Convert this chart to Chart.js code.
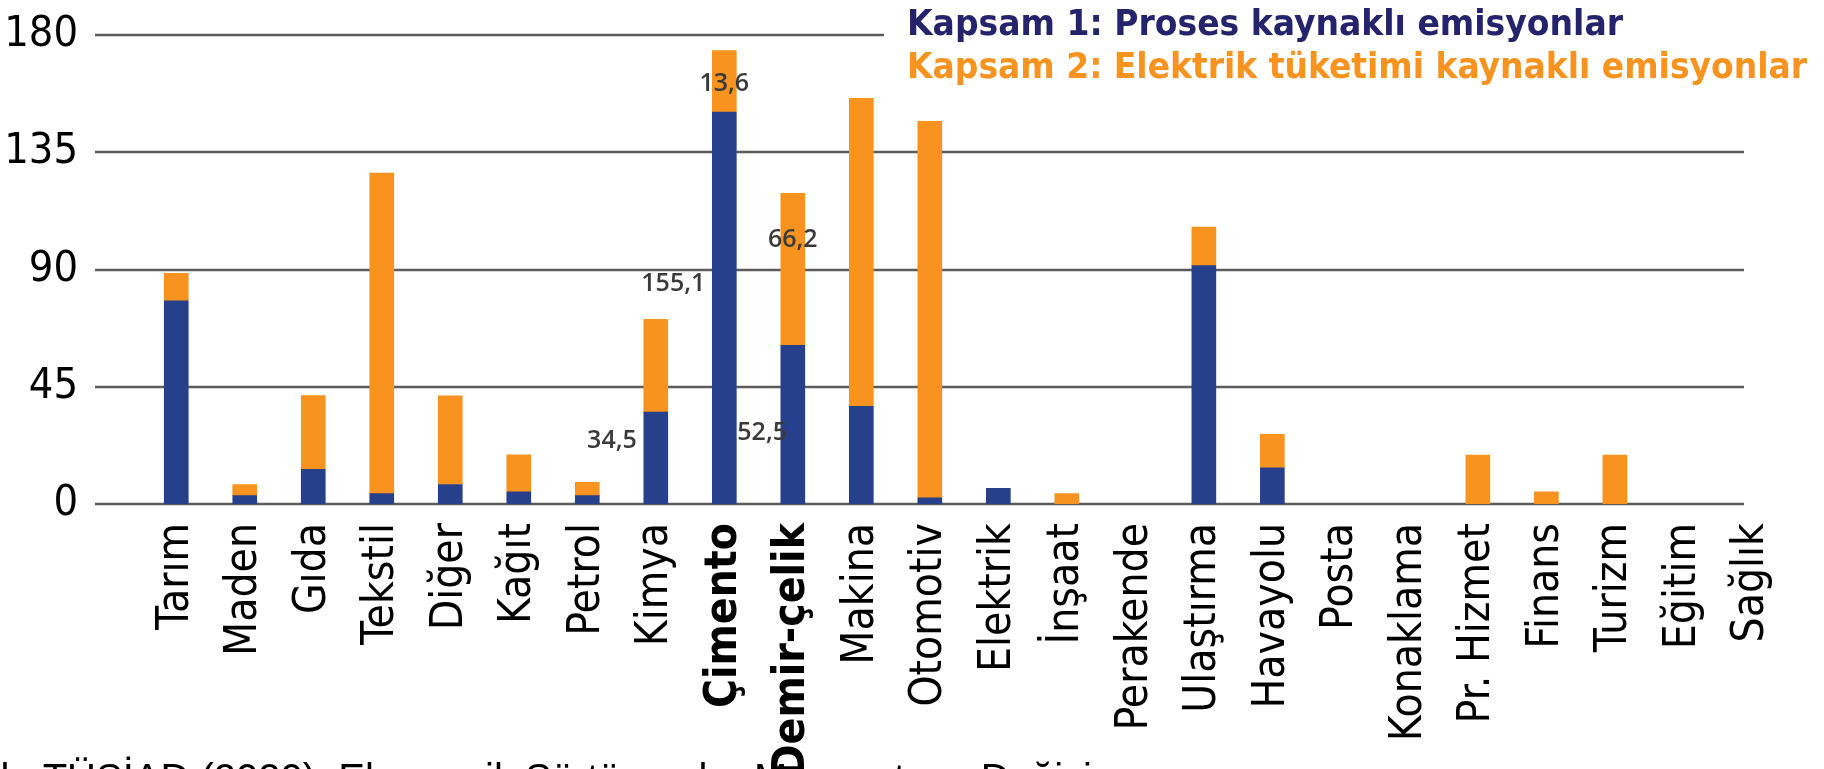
<!DOCTYPE html>
<html lang="tr">
<head>
<meta charset="utf-8">
<title>Kapsam 1 ve Kapsam 2 emisyonları</title>
<script src="https://cdn.jsdelivr.net/npm/chart.js@4.4.1/dist/chart.umd.min.js"></script>
<style>
  html, body { margin: 0; padding: 0; background: #fff; overflow: hidden; }
  #wrap { position: relative; width: 1824px; height: 769px; }
</style>
</head>
<body>
<div id="wrap"><canvas id="emisyon"></canvas></div>
<script>
// sectors along the x axis
const categories = [
    "Tarım", "Maden", "Gıda", "Tekstil", "Diğer", "Kağıt", "Petrol", "Kimya",
    "Çimento", "Demir-çelik", "Makina", "Otomotiv", "Elektrik", "İnşaat",
    "Perakende", "Ulaştırma", "Havayolu", "Posta", "Konaklama", "Pr. Hizmet",
    "Finans", "Turizm", "Eğitim", "Sağlık"
];
const boldCategories = ["Çimento", "Demir-çelik"];

// Kapsam 1 (blue, bottom) and Kapsam 2 (orange, stacked on top)
const kapsam1 = [78, 3.2, 13.3, 4, 7.5, 4.7, 3.2, 35.3, 150.4, 60.9, 37.5, 2.4, 6, 0, 0, 91.5, 13.9, 0, 0, 0, 0, 0, 0, 0];
const kapsam2 = [10.5, 4.3, 28.3, 123, 34, 14.2, 5.1, 35.6, 23.6, 58.3, 118.2, 144.5, 0, 4, 0, 14.8, 12.8, 0, 0, 18.8, 4.7, 18.8, 0, 0];

const seriesLabels = [
    "Kapsam 1: Proses kaynaklı emisyonlar",
    "Kapsam 2: Elektrik tüketimi kaynaklı emisyonlar"
];

const yTicks = [0, 45, 90, 135, 180];

// loose value labels printed on the picture
const notes = [
    { text: "13,6", cat: "Çimento", value: 161.2, align: "center", dx: 0 },
    { text: "155,1", cat: "Çimento", value: 84.4, align: "right", dx: -19 },
    { text: "66,2", cat: "Demir-çelik", value: 101.3, align: "center", dx: 0 },
    { text: "34,5", cat: "Kimya", value: 24.2, align: "right", dx: -19 },
    { text: "52,5", cat: "Çimento", value: 27.3, align: "left", dx: 13 }
];

const footnote = "Kaynak: TÜSİAD (2020). Ekonomik Sürtünmeler Mevzuatı ve Değişim";

const BLUE = "#27408B";
const ORANGE = "#F7931E";
const LEGEND_COLORS = ["#24236B", "#F7931E"];
const GRID_COLOR = "#5c5c5c";
const LABEL_FONT = "'DejaVu Sans Condensed', 'DejaVu Sans', sans-serif";
const YTICK_FONT = "'DejaVu Sans Condensed', 'Liberation Sans', sans-serif";

const refDecor = {
    id: "refDecor",
    beforeDatasetsDraw(chart) {
        const ctx = chart.ctx;
        const y = chart.scales.y;
        ctx.save();
        ctx.strokeStyle = GRID_COLOR;
        ctx.lineWidth = 2.5;
        yTicks.forEach((v) => {
            const py = Math.round(y.getPixelForValue(v));
            ctx.beginPath();
            ctx.moveTo(95, py);
            ctx.lineTo(1744, py);
            ctx.stroke();
        });
        // legend sits on a white box that hides the end of the top line
        ctx.fillStyle = "#fff";
        ctx.fillRect(884, 0, chart.width - 884, 88);
        ctx.restore();
    },
    afterDatasetsDraw(chart) {
        const ctx = chart.ctx;
        const x = chart.scales.x;
        const y = chart.scales.y;
        ctx.save();

        // value notes
        ctx.font = "600 25px 'Open Sans', sans-serif";
        ctx.fillStyle = "#3a3a3a";
        ctx.textBaseline = "middle";
        notes.forEach((n) => {
            const px = x.getPixelForValue(categories.indexOf(n.cat)) + n.dx;
            ctx.textAlign = n.align;
            ctx.fillText(n.text, px, y.getPixelForValue(n.value));
        });

        // text-only legend, top right
        const legend = [
            { text: chart.data.datasets[0].label, color: LEGEND_COLORS[0], base: 35, width: 716 },
            { text: chart.data.datasets[1].label, color: LEGEND_COLORS[1], base: 78, width: 900 }
        ];
        ctx.font = "bold 35px 'DejaVu Sans Condensed', 'DejaVu Sans', sans-serif";
        ctx.textAlign = "left";
        ctx.textBaseline = "alphabetic";
        legend.forEach((l) => {
            const w = ctx.measureText(l.text).width;
            ctx.save();
            ctx.translate(907, l.base);
            ctx.scale(l.width / w, 1);
            ctx.fillStyle = l.color;
            ctx.fillText(l.text, 0, 0);
            ctx.restore();
        });

        // source line, cut by the bottom edge
        ctx.font = "40px 'Liberation Sans', Arial, sans-serif";
        ctx.fillStyle = "#000";
        ctx.fillText(footnote, -113, 792);
        ctx.restore();
    }
};

new Chart(document.getElementById("emisyon"), {
    type: "bar",
    data: {
        labels: categories,
        datasets: [
            { label: seriesLabels[0], data: kapsam1.map((v) => v || null), backgroundColor: BLUE, barThickness: 24 },
            { label: seriesLabels[1], data: kapsam2.map((v) => v || null), backgroundColor: ORANGE, barThickness: 24 }
        ]
    },
    options: {
        responsive: true,
        maintainAspectRatio: false,
        animation: false,
        layout: { padding: { top: 35, right: 14, left: 0, bottom: 0 } },
        plugins: {
            legend: { display: false },
            tooltip: { enabled: false }
        },
        scales: {
            x: {
                stacked: true,
                grid: { display: false, drawTicks: false },
                border: { display: false },
                afterFit: (scale) => { scale.height = 265; },
                ticks: {
                    autoSkip: false,
                    maxRotation: 90,
                    minRotation: 90,
                    padding: 19,
                    color: "#000",
                    font: (c) => ({
                        family: LABEL_FONT,
                        size: 44,
                        weight: boldCategories.includes(categories[c.index]) ? "bold" : "normal"
                    })
                }
            },
            y: {
                stacked: true,
                min: 0,
                max: 180,
                grid: { display: false, drawTicks: false },
                border: { display: false },
                afterFit: (scale) => {
                    scale.width = 142;
                    scale.paddingTop = 0;
                    scale.paddingBottom = 0;
                },
                afterBuildTicks: (scale) => { scale.ticks = yTicks.map((v) => ({ value: v })); },
                ticks: {
                    padding: 64,
                    color: "#000",
                    font: { family: YTICK_FONT, size: 43 }
                }
            }
        }
    },
    plugins: [refDecor]
});
</script>
</body>
</html>
